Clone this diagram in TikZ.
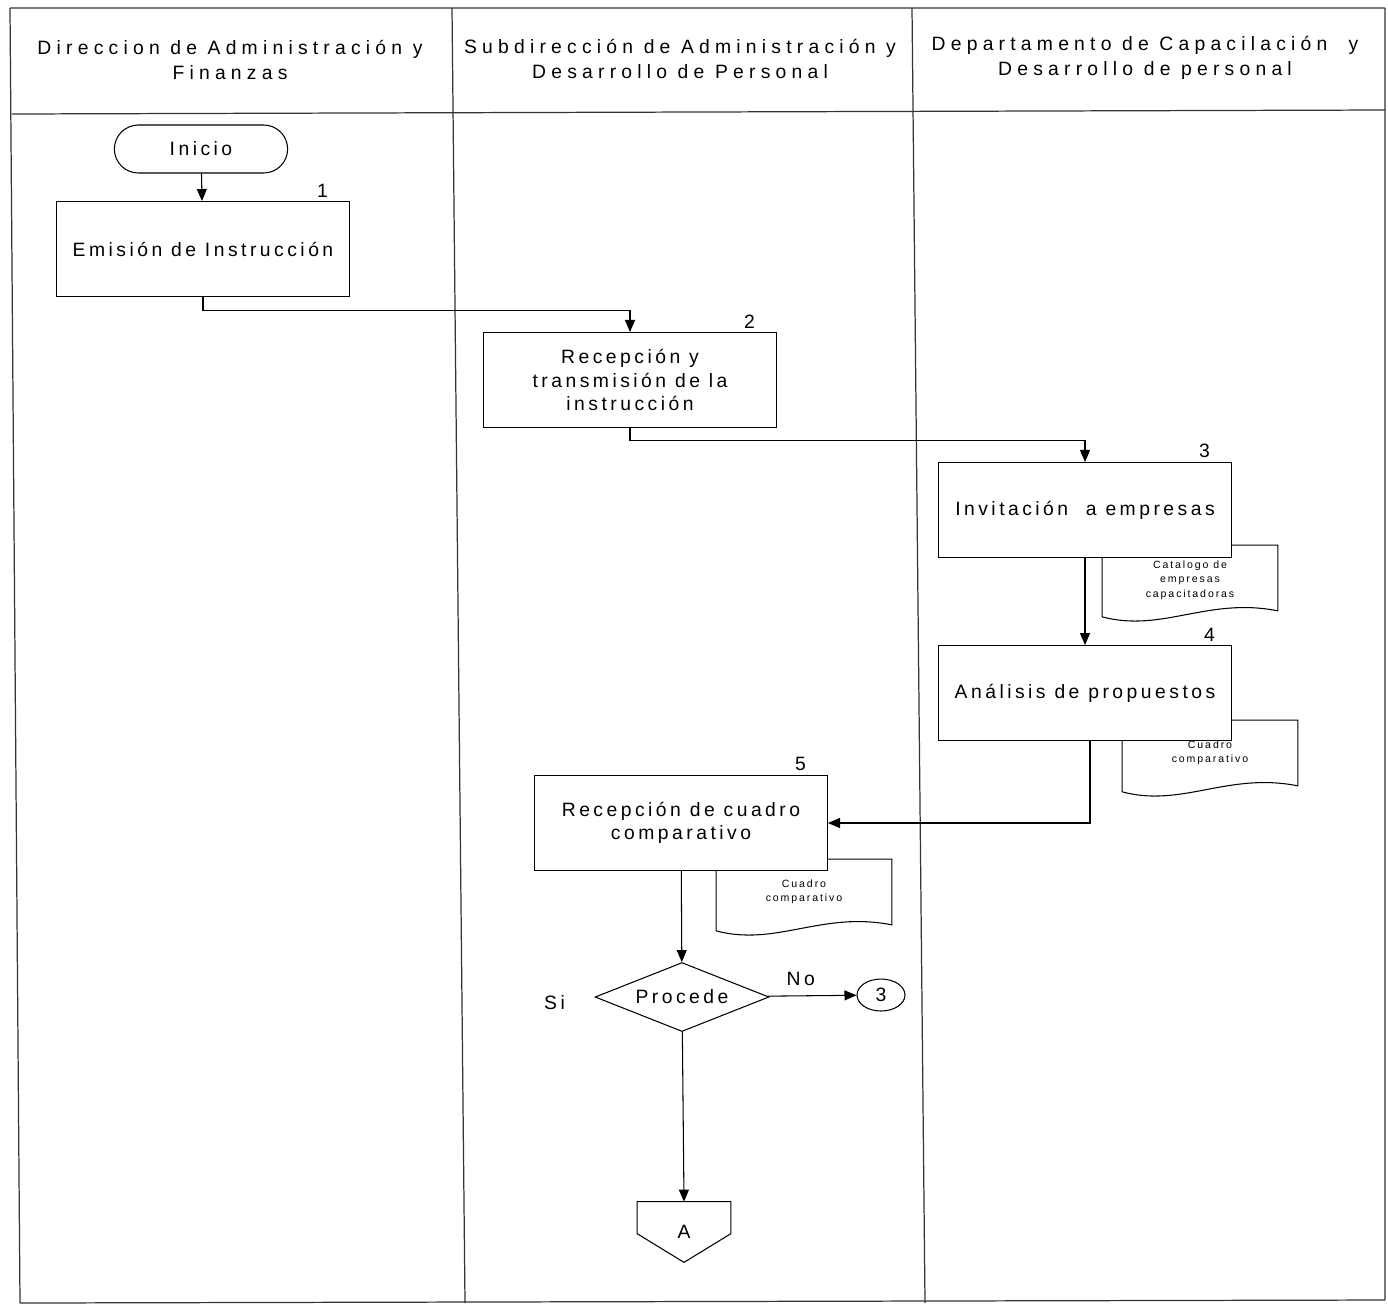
\documentclass[tikz,border=0pt]{standalone}
\usepackage{fontspec}
\setmainfont{Liberation Sans}[LetterSpace=18]
\usetikzlibrary{arrows.meta,positioning,shapes.geometric,shapes.misc,calc}
\newcommand\boxfont{\fontsize{11}{13.5}\selectfont}
\newcommand\docfont{\fontsize{6}{8.2}\selectfont}
\tikzset{
  lane/.style={line width=0.7pt,black!80},
  head/.style={font=\fontsize{11}{14}\selectfont\addfontfeature{LetterSpace=27},align=center},
  proc/.style={draw,fill=white,line width=0.6pt,minimum width=5.86cm,minimum height=1.9cm,align=center,font=\boxfont},
  term/.style={draw,rounded rectangle,line width=0.6pt,minimum width=3.7cm,minimum height=0.96cm,font=\boxfont},
  dec/.style={draw,diamond,aspect=2.5,inner sep=0pt,line width=0.6pt,minimum width=3.48cm,minimum height=1.38cm,font=\boxfont},
  conn/.style={draw,ellipse,line width=0.6pt,minimum width=0.96cm,minimum height=0.64cm,inner sep=0pt,font=\boxfont},
  offp/.style={minimum width=1.86cm,minimum height=1.2cm,inner sep=0pt,font=\boxfont},
  docnode/.style={minimum width=3.5cm,minimum height=1.3cm,inner sep=0pt,align=center,font=\docfont},
  num/.style={font=\boxfont,inner sep=1pt},
  flow/.style={line width=0.6pt,-{Triangle[length=2.4mm,width=2mm]}}
}
% document symbol drawn round a node
\newcommand\docline[1]{%
  \draw[line width=0.6pt] ($(#1.south west)+(0,6)$) -- (#1.north west) -- (#1.north east) -- (#1.south east)
    .. controls ($(#1.south east)+(-70,-14)$) and ($(#1.south west)+(60,22)$) .. ($(#1.south west)+(0,6)$);}

\begin{document}
\begin{tikzpicture}[x=0.02cm,y=-0.02cm]
\useasboundingbox (0,0) rectangle (1388,1306);
% swimlanes
\draw[lane] (10,8) -- (1385,8) (12,114) -- (1385,110) (20,1303) -- (1385,1300);
\draw[lane] (10,8) -- (20,1303) (1385,8) -- (1385,1300);
\draw[lane] (452,8) -- (465,1303) (912,8) -- (925,1303);
\node[head] (h1) at (230,60) {Direccion de Administración y\\Finanzas};
\node[head] (h2) at (680,59) {Subdirección de Administración y\\Desarrollo de Personal};
\node[head] (h3) at (1145,58) {Departamento de Capacilación \ y\\Desarrollo de personal};

% documents (behind the boxes)
\node[docnode] (d3) at (1190,578) {};
\node[font=\docfont,align=center] (t3) at (1190,580) {Catalogo de\\empresas\\capacitadoras};
\docline{d3}
\node[docnode] (d4) at (1210,753) {Cuadro\\comparativo};
\docline{d4}
\node[docnode] (d5) at (804,892) {Cuadro\\comparativo};
\docline{d5}

% steps
\node[term] (ini) at (201,149) {Inicio};
\node[proc] (b1) at (203,249) {Emisión de Instrucción};
\node[proc] (b2) at (630,380) {Recepción y\\transmisión de la\\instrucción};
\node[proc] (b3) at (1085,510) {Invitación \ a empresas};
\node[proc] (b4) at (1085,693) {Análisis de propuestos};
\node[proc] (b5) at (681,823) {Recepción de cuadro\\comparativo};
\node[dec] (dc) at (682,997) {Procede};
\node[conn] (c3) at (881,995) {3};
\node[offp] (offA) at (684,1232) {A};
\draw[line width=0.6pt] (offA.north west) -- (offA.north east) -- ($(offA.north east)+(0,32)$)
  -- (offA.south) -- ($(offA.north west)+(0,32)$) -- cycle;

\node[num,above left=1pt and 0.4cm of b1.north east] {1};
\node[num,above left=1pt and 0.4cm of b2.north east] {2};
\node[num,above left=1pt and 0.4cm of b3.north east] {3};
\node[num,above left=1pt and 0.3cm of b4.north east] {4};
\node[num,above left=1pt and 0.4cm of b5.north east] {5};
\node[num,above right=5pt and 0.3cm of dc.east] (no) {No};
\node[num,left=0.55cm of dc.west,yshift=-3pt] (si) {Si};

% flow
\draw[flow] (ini) -- (b1);
\draw[flow] (b1.south) -- ++(0,13) -| (b2.north);
\draw[flow] (b2.south) -- ++(0,12) -| (b3.north);
\draw[flow] (b3) -- (b4);
\draw[flow] ($(b4.south)+(5,0)$) |- (b5.east);
\draw[flow] (b5) -- (dc);
\draw[flow] (dc) -- (c3);
\draw[flow] (dc) -- (offA.north);
\end{tikzpicture}
\end{document}
